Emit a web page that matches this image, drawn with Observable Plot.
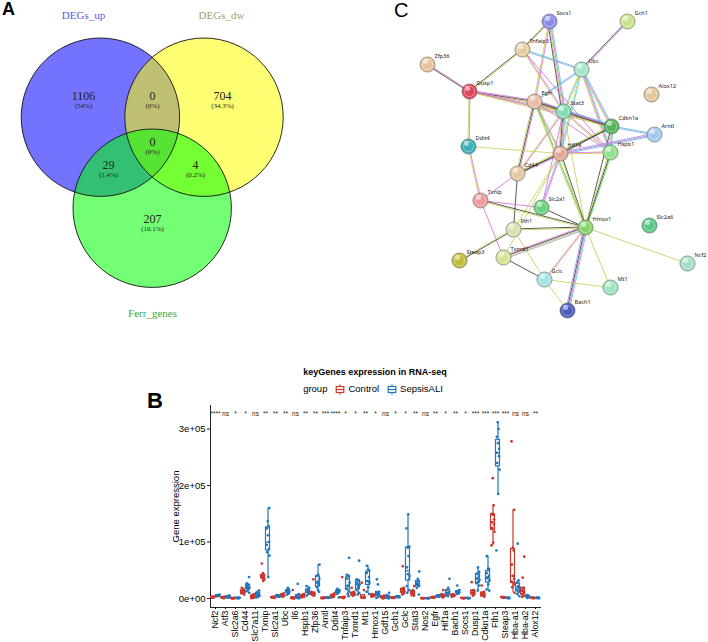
<!DOCTYPE html>
<html><head><meta charset="utf-8">
<script src="https://cdn.jsdelivr.net/npm/d3@7"></script>
<script src="https://cdn.jsdelivr.net/npm/@observablehq/plot@0.6"></script>
<style>
body{margin:0;background:#fff;}
#root{position:relative;width:708px;height:642px;overflow:hidden;background:#fff;font-family:"Liberation Sans",Arial,sans-serif;color:#000;}
.lg{display:flex;align-items:center;justify-content:center;gap:3px;font-size:9.5px;line-height:12px;}
.lg svg{display:block;}
</style></head><body><div id="root"></div>
<script>
// ---------------- Panel A: Venn data ----------------
const vennSets = ["DEGs_up", "DEGs_dw", "Ferr_genes"];
const vennRegionCounts = [1106, 0, 704, 29, 0, 4, 207];
const vennRegionPercents = ["(54%)", "(0%)", "(34.3%)", "(1.4%)", "(0%)", "(0.2%)", "(10.1%)"];

// ---------------- Panel C: network data ----------------
const netNodes = ["Socs1","Gch1","Tnfaip3","Zfp36","Ubc","Dusp1","Alox12","Egfr","Stat3","Cdkn1a","Arntl","Ddit4","Hif1a","Hspb1","Cd44","Txnip","Slc2a1","Hmox1","Slc2a6","Fth1","Steap3","Txnrd1","Ncf2","Gclc","Mt1","Bach1"];
const netEdges = [
 ["Zfp36","Dusp1","mk"],["Dusp1","Tnfaip3","ky"],["Dusp1","Egfr","mky"],["Dusp1","Stat3","my"],["Dusp1","Cdkn1a","my"],["Dusp1","Ddit4","my"],
 ["Socs1","Tnfaip3","yk"],["Socs1","Stat3","cmyk"],["Socs1","Egfr","my"],["Gch1","Ubc","mk"],["Tnfaip3","Ubc","cp"],["Tnfaip3","Stat3","my"],["Tnfaip3","Hspb1","m"],
 ["Ubc","Egfr","cp"],["Ubc","Stat3","cy"],["Ubc","Cdkn1a","cmy"],["Ubc","Hspb1","cmy"],["Ubc","Hif1a","cy"],
 ["Egfr","Stat3","cmky"],["Egfr","Cdkn1a","mky"],["Egfr","Hif1a","my"],["Egfr","Cd44","mky"],["Egfr","Hspb1","m"],["Egfr","Hmox1","gy"],
 ["Stat3","Cdkn1a","cmky"],["Stat3","Hif1a","cmky"],["Stat3","Hspb1","my"],["Stat3","Cd44","my"],["Stat3","Hmox1","y"],["Stat3","Slc2a1","m"],
 ["Cdkn1a","Arntl","cp"],["Cdkn1a","Hif1a","ky"],["Cdkn1a","Hspb1","cmy"],["Cdkn1a","Hmox1","k"],["Cdkn1a","Cd44","ky"],["Arntl","Hif1a","cmp"],
 ["Ddit4","Hif1a","y"],["Ddit4","Txnip","my"],["Hif1a","Hspb1","my"],["Hif1a","Cd44","mky"],["Hif1a","Slc2a1","mp"],["Hif1a","Hmox1","ky"],["Hif1a","Fth1","y"],["Hif1a","Txnrd1","y"],
 ["Hspb1","Hmox1","gky"],["Cd44","Txnip","m"],["Cd44","Fth1","k"],["Txnip","Slc2a1","m"],["Txnip","Hmox1","ky"],["Txnip","Txnrd1","m"],
 ["Fth1","Hmox1","ky"],["Fth1","Steap3","ky"],["Fth1","Gclc","y"],["Txnrd1","Hmox1","mkyp"],["Txnrd1","Gclc","k"],
 ["Hmox1","Bach1","cmkp"],["Hmox1","Gclc","my"],["Hmox1","Mt1","y"],["Hmox1","Ncf2","y"],["Hmox1","Slc2a1","k"],["Gclc","Mt1","y"],["Gclc","Bach1","y"]
];

// ---------------- Panel B: expression data (values in thousands) ----------------
const genes = ["Ncf2","Atf3","Slc2a6","Cd44","Slc7a11","Txnip","Slc2a1","Ubc","Il6","Hspb1","Zfp36","Arntl","Ddit4","Tnfaip3","Txnrd1","Mt1","Hmox1","Gdf15","Gch1","Gclc","Stat3","Nos2","Egfr","Hif1a","Bach1","Socs1","Dusp1","Cdkn1a","Fth1","Steap3","Hba-a1","Hba-a2","Alox12"];
const groups = ["Control", "SepsisALI"];
const controlValues = [
 [1.5,2,2.2,2.5,2.8,3,3.3,2.6],[0.8,1.2,1.5,2,2.4,1,1.8,2.8],[0.3,0.5,0.6,0.8,1,0.4,0.7,0.9],[7,9,10,12,14,16,19,11],
 [0.5,1,2,3,4,6,8,2.5],[31,34,36,38,40,42,45,62,37,41],[1,1.5,2,2.5,3,1.8,2.2,2.8],[3,4,5,6,7,8,9,5.5],
 [0,0.3,0.5,1,1.5,2,15,0.8],[2,3,4,5,6,7,8,4.5],[5,6,7,8,9,10,12,34,7.5],[0.5,0.8,1,1.2,1.5,0.7,1.3,0.9],
 [2,3,4,5,6,7,9,4.5],[0.8,1.2,1.5,2,2.5,3,38,1.8],[5,6,7,8,9,10,12,19,8.5],[1,1.5,2,2.5,3,15,28,2.2],
 [3,4,5,6,7,8,5.5,4.5],[0,1,2,3,4,5,2.5,1.5],[1,1.2,1.5,1.8,2,1.4,1.6,1.7],[7,9,11,13,15,17,19,57,12],
 [5,6,8,10,12,13,15,22,9],[0.3,0.5,0.6,0.7,0.4],[1,1.5,2,2.5,3,1.8,2.2],[2,3,4,5,6,8,15,4.5],
 [3,4,5,6,7,8,5.5],[0.5,0.7,0.9,1,0.8,0.6],[5,7,9,10,12,14,15,29,9.5],[3,5,7,8,10,12,23,6],
 [94,99,118,125,131,135,140,148,150,165,213],[1,1.5,2,2.5,3,1.8,2.2],[10,20,25,30,35,40,60,85,90,157,278],[3,5,8,10,13,16,19,37,74],
 [0.5,0.8,1,1.2,1.5,0.9]
];
const sepsisValues = [
 [4,4.5,5,5.5,6,6.2,6.8,5.2],[1.5,2.5,3,3.5,4,5,2,4.5],[0.5,0.7,0.9,1.1,1.3,0.8,1,1.2],[10,13,16,19,21,24,27,38,18,22],
 [2,3,5,7,9,11,14,6],[38,76,82,88,95,100,112,124,128,137,160],[3,3.5,4,4.5,5,5.5,6,4.2],[7,9,11,13,14,15,17,19,12],
 [0,1,2,3,5,8,26,2.5],[5,8,10,12,14,16,19,22,13],[12,15,20,25,30,35,40,42,60,28],[1,1.4,1.8,2,2.5,1.6,2.2,1.2],
 [8,10,11,12,13,14,15,17,2,12.5],[4,8,12,18,23,28,35,40,42,72,22],[7,10,15,20,25,28,32,34,67,24],[8,12,20,28,31,38,45,50,51,58,30],
 [1,3,5,7,9,11,12,25,34,8],[0,1,2,4,6,10,3,1.5],[2,2.5,3,3.5,4,2.8,3.2,3.6],[10,15,22,35,43,55,75,90,92,124,149,40],
 [7,19,22,25,28,31,35,48,26],[0.4,0.6,0.8,0.7,0.5],[3,3.5,4,4.5,5,6,4.2],[4,6,8,10,12,15,19,35,9],
 [8,9,10,11,12,13,15,23,10.5],[0.5,0.7,0.9,1,0.8,0.6],[14,23,27,30,33,36,40,44,47,55],[14,16,25,32,36,40,45,52,53,75,38],
 [85,185,228,240,252,258,265,275,286,300,312],[0.5,0.8,1,1.2,1.5,0.9],[4,8,12,15,18,22,28,32,97,20],[1,2,3,4,5,6,3.5],
 [0.5,0.8,1,1.2,1.5,0.9]
];
const sigLabels = ["****","ns","*","*","ns","**","**","**","ns","**","**","***","****","*","*","**","*","ns","*","*","**","ns","**","*","**","*","***","***","***","***","ns","ns","**"];
const yTicks = [0, 100000, 200000, 300000];
const yTickLabels = ["0e+00", "1e+05", "2e+05", "3e+05"];

// ---------------- layout & style (not data) ----------------
const vennLayout = {
  centers: [[99.9,116.7],[203.5,116.7],[151.7,207.7]], r: 79.2,
  fills: ["#0000ff","#ffff00","#00ff00"],
  setLabelPos: [[83,15],[221,15],[152,313]],
  setLabelColors: ["#5a5af0","#a49c68","#3caa3c"],
  regionPos: [[83,96],[152,96],[222,96],[108,165],[152,142],[195,165],[152,219]]
};
const netLayout = {
  Socs1:[169,21], Gch1:[247,21], Tnfaip3:[142,49], Zfp36:[47,64], Ubc:[201,69], Dusp1:[89,91], Alox12:[271,94],
  Egfr:[154,101], Stat3:[183,111], Cdkn1a:[231,126], Arntl:[274,134], Ddit4:[88,146], Hif1a:[180,153], Hspb1:[230,152],
  Cd44:[137,173], Txnip:[100,200], Slc2a1:[161,207], Hmox1:[205,227], Slc2a6:[269,225], Fth1:[133,229], Steap3:[79,260],
  Txnrd1:[123,257], Ncf2:[307,263], Gclc:[164,279], Mt1:[230,287], Bach1:[187,310]
};
const netNodeColors = {
  Socs1:"#8d8de6", Gch1:"#c8e48c", Tnfaip3:"#e2cfa2", Zfp36:"#e8c49c", Ubc:"#a4e4c8", Dusp1:"#e0465a", Alox12:"#e2c89c",
  Egfr:"#e6bca4", Stat3:"#84dcb4", Cdkn1a:"#54b45c", Arntl:"#a4c8f0", Ddit4:"#3cb0b4", Hif1a:"#e4a898", Hspb1:"#94e08c",
  Cd44:"#e4c8a0", Txnip:"#ec9c9c", Slc2a1:"#6cd07c", Hmox1:"#88d46c", Slc2a6:"#5cc888", Fth1:"#d4e0b0", Steap3:"#c0bc3c",
  Txnrd1:"#d4e494", Ncf2:"#a4e0c4", Gclc:"#a4e4e4", Mt1:"#a0e4c0", Bach1:"#4c5cbc"
};
const edgeColors = {c:"#55c8e2", m:"#d870d8", y:"#c4d05a", k:"#3c3c3c", p:"#9c9ce8", g:"#3cc83c"};
const groupColors = ["#C8372D", "#1F77BF"];
const jitterPattern = [-0.22,0.12,-0.05,0.25,-0.3,0.05,0.3,-0.15,0.18,-0.25,0.22,0];

const root = document.getElementById("root");
function place(el, left, top) { el.style.position = "absolute"; el.style.left = left + "px"; el.style.top = top + "px"; root.appendChild(el); return el; }
function div(html, left, top, css) { const d = document.createElement("div"); d.innerHTML = html; d.style.cssText = css || ""; return place(d, left, top); }

// ---------------- Venn ----------------
const circles = vennSets.map((s, i) => ({set: s, x: vennLayout.centers[i][0], y: vennLayout.centers[i][1], fill: vennLayout.fills[i]}));
const setLabels = vennSets.map((s, i) => ({text: s, x: vennLayout.setLabelPos[i][0], y: vennLayout.setLabelPos[i][1], c: vennLayout.setLabelColors[i]}));
const regions = vennRegionCounts.map((n, i) => ({n: String(n), p: vennRegionPercents[i], x: vennLayout.regionPos[i][0], y: vennLayout.regionPos[i][1]}));
const serif = "'Liberation Serif','DejaVu Serif',serif";
const venn = Plot.plot({
  width: 300, height: 320, margin: 0,
  x: {domain: [0, 300], range: [0, 300], axis: null},
  y: {domain: [0, 320], range: [0, 320], axis: null},
  style: {background: "transparent"},
  marks: [
    Plot.dot(circles, {x: "x", y: "y", r: vennLayout.r, fill: d => d.fill, fillOpacity: 0.55, stroke: "none"}),
    Plot.dot(circles, {x: "x", y: "y", r: vennLayout.r, fill: "none", stroke: "#111", strokeWidth: 0.9}),
    Plot.text(setLabels, {x: "x", y: "y", text: "text", fill: d => d.c, fontSize: 11, fontFamily: serif}),
    Plot.text(regions, {x: "x", y: "y", text: "n", fill: "#222", fontSize: 12, fontFamily: serif}),
    Plot.text(regions, {x: "x", y: "y", dy: 9.5, text: "p", fill: "#222", fontSize: 7, fontFamily: serif})
  ]
});
place(venn, 0, 0);

// ---------------- Network ----------------
const segs = [];
for (const [a, b, cs] of netEdges) {
  const [x1, y1] = netLayout[a], [x2, y2] = netLayout[b];
  const L = Math.hypot(x2 - x1, y2 - y1), nx = -(y2 - y1) / L, ny = (x2 - x1) / L;
  for (let k = 0; k < cs.length; k++) {
    const o = (k - (cs.length - 1) / 2) * 1.15;
    segs.push({x1: x1 + nx * o, y1: y1 + ny * o, x2: x2 + nx * o, y2: y2 + ny * o, c: edgeColors[cs[k]]});
  }
}
const nodes = netNodes.map(n => ({name: n, x: netLayout[n][0], y: netLayout[n][1], c: netNodeColors[n]}));
const net = Plot.plot({
  width: 328, height: 320, margin: 0,
  x: {domain: [0, 328], range: [0, 328], axis: null},
  y: {domain: [0, 320], range: [0, 320], axis: null},
  style: {background: "transparent"},
  marks: [
    Plot.link(segs, {x1: "x1", y1: "y1", x2: "x2", y2: "y2", stroke: d => d.c, strokeWidth: 0.9, strokeOpacity: 0.95}),
    Plot.dot(nodes, {x: "x", y: "y", r: 7.6, fill: d => d.c, stroke: "#6a6a6a", strokeWidth: 0.6}),
    Plot.dot(nodes, {x: "x", y: "y", r: 5.2, fill: "none", stroke: "#ffffff", strokeOpacity: 0.35, strokeWidth: 1}),
    Plot.dot(nodes, {x: "x", y: "y", dx: -2, dy: -3.2, r: 2.6, fill: "#ffffff", fillOpacity: 0.55}),
    Plot.text(nodes, {x: "x", y: "y", text: "name", dx: 7, dy: -8, textAnchor: "start", fontSize: 5.6, fill: "#222"})
  ]
});
place(net, 380, 0);

// ---------------- Panel B: boxplots ----------------
const points = [], stats = [];
genes.forEach((g, gi) => {
  [controlValues[gi], sepsisValues[gi]].forEach((vals, k) => {
    const v = vals.map(d => d * 1000).sort(d3.ascending);
    const q1 = d3.quantile(v, 0.25), med = d3.quantile(v, 0.5), q3 = d3.quantile(v, 0.75), iqr = q3 - q1;
    const lo = d3.min(v.filter(d => d >= q1 - 1.5 * iqr)), hi = d3.max(v.filter(d => d <= q3 + 1.5 * iqr));
    stats.push({gene: g, group: groups[k], gx: k, q1, med, q3, lo, hi});
    vals.forEach((d, j) => points.push({gene: g, group: groups[k], gx: k + jitterPattern[(j + gi) % jitterPattern.length], value: d * 1000}));
  });
});
const sigData = genes.map((g, i) => ({gene: g, sig: sigLabels[i]}));
const bw = 0.4;
const box = Plot.plot({
  width: 560, height: 247, marginTop: 10, marginBottom: 35, marginLeft: 209, marginRight: 20,
  style: {fontFamily: "'Liberation Sans',Arial,sans-serif", background: "transparent", color: "#000"},
  fx: {domain: genes, padding: 0},
  x: {domain: [-0.5, 1.5], axis: null},
  y: {domain: [-15900, 341600]},
  color: {domain: groups, range: groupColors},
  marks: [
    Plot.frame({anchor: "bottom", stroke: "#222", strokeWidth: 1}),
    Plot.ruleX([genes[0]], {fx: d => d, x: () => -0.5, stroke: "#222", strokeWidth: 1}),
    Plot.axisY({ticks: yTicks, tickFormat: d => yTickLabels[yTicks.indexOf(d)], tickSize: 3, tickPadding: 2, fontSize: 9.5,
      label: "Gene expression", labelAnchor: "center", labelArrow: "none", labelOffset: 38, stroke: "#222"}),
    Plot.axisFx({anchor: "bottom", tickRotate: -90, tickSize: 2, tickPadding: 1, fontSize: 8.8, label: null}),
    Plot.ruleX(stats, {fx: "gene", x: "gx", y1: "lo", y2: "hi", stroke: "group", strokeWidth: 1.2}),
    Plot.rect(stats, {fx: "gene", x1: d => d.gx - bw, x2: d => d.gx + bw, y1: "q1", y2: "q3", fill: "white", stroke: "group", strokeWidth: 1.2}),
    Plot.ruleY(stats, {fx: "gene", x1: d => d.gx - bw, x2: d => d.gx + bw, y: "med", stroke: "group", strokeWidth: 1.2}),
    Plot.dot(points, {fx: "gene", x: "gx", y: "value", r: 1.35, fill: "group", stroke: "none"}),
    Plot.text(sigData, {fx: "gene", x: () => 0.5, text: "sig", frameAnchor: "top", dy: 6, fontSize: 6.5, fill: "#222"})
  ]
});
place(box, 0, 395);

// ---------------- text: panel letters, title, legend ----------------
div("A", 2, 0, "font-size:18px;font-weight:bold;line-height:1;");
div("C", 394, 0, "font-size:20px;line-height:1;");
div("B", 147, 390, "font-size:22px;font-weight:bold;line-height:1;");
div("keyGenes expression in RNA-seq", 275, 366, "width:200px;text-align:center;font-size:9px;font-weight:bold;line-height:12px;");
function glyph(c) {
  return `<svg width="10" height="11"><line x1="5" x2="5" y1="0.5" y2="10.5" stroke="${c}" stroke-width="1.2"/><rect x="1.2" y="2.5" width="7.6" height="6" fill="white" stroke="${c}" stroke-width="1.2"/><line x1="1.2" x2="8.8" y1="5.5" y2="5.5" stroke="${c}" stroke-width="1.2"/></svg>`;
}
div(`<span>group</span><span style="width:2px"></span>${glyph(groupColors[0])}<span>${groups[0]}</span><span style="width:2px"></span>${glyph(groupColors[1])}<span>${groups[1]}</span>`,
    273, 383, "width:200px;").className = "lg";
</script></body></html>
